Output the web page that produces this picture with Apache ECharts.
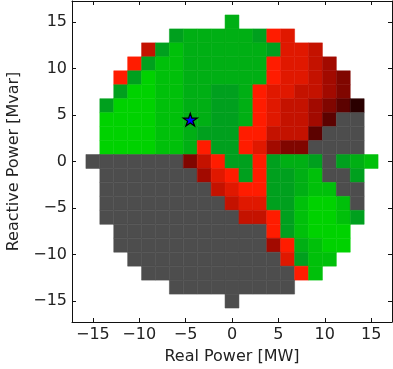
<!DOCTYPE html>
<html>
<head>
<meta charset="utf-8">
<script src="https://cdn.jsdelivr.net/npm/echarts@6/dist/echarts.min.js"></script>
<style>
html, body { margin: 0; padding: 0; background: #fff; }
#chart { width: 393px; height: 369px; }
</style>
</head>
<body>
<div id="chart"></div>
<script>
// cell centres, 1.5 MW / 1.5 Mvar apart
const realPower = [-15, -13.5, -12, -10.5, -9, -7.5, -6, -4.5, -3, -1.5, 0, 1.5, 3, 4.5, 6, 7.5, 9, 10.5, 12, 13.5, 15];
const reactivePower = [15, 13.5, 12, 10.5, 9, 7.5, 6, 4.5, 3, 1.5, 0, -1.5, -3, -4.5, -6, -7.5, -9, -10.5, -12, -13.5, -15];

// one string per row (top -> bottom), one char per cell (left -> right)
// a..e = green (dark -> bright), 1..7 = red (bright -> dark), # = infeasible, . = outside
const cellRows = [
    '..........c..........',
    '......bcccccb12......',
    '....3bdccccccb223....',
    '...1bddcccccc12234...',
    '..1beddcccccc122345..',
    '..beeddccbbc1223345..',
    '.beeeddccbbc12334567.',
    '.eeeeddccbbc123346##.',
    '.eeeeddcbbb113336###.',
    '.eeeeddc1bb12455####.',
    '#######531bb1bccb#bcd',
    '.#######421b1bbcd##b.',
    '.########3211bbcdd##.',
    '.#########322bbdeed#.',
    '.##########331bdeedb.',
    '..###########1bdeee..',
    '..###########41cdee..',
    '...###########2bdd...',
    '....###########1d....',
    '......#########......',
    '..........#..........'
];

const operatingPoint = [-4.5, 4.5];
const tickValues = [-15, -10, -5, 0, 5, 10, 15];

const palette = {
    a: '#00912a', b: '#00a01e', c: '#00af14', d: '#00c00a', e: '#00d200',
    '1': '#ff1c00', '2': '#e01800', '3': '#c41200', '4': '#a20a00',
    '5': '#800600', '6': '#5c0200', '7': '#2a0000',
    '#': '#4d4d4d'
};

const cells = [];
cellRows.forEach(function (row, r) {
    for (let c = 0; c < row.length; c++) {
        const code = row[c];
        if (code === '.') continue;
        cells.push({ value: [realPower[c], reactivePower[r]], itemStyle: { color: palette[code] } });
    }
});

const font = 'DejaVu Sans';
const half = 0.75;

function frameAxis(pos, showLabels, name) {
    return {
        type: 'value',
        position: pos,
        min: -17.25,
        max: 17.25,
        name: name,
        nameLocation: 'middle',
        nameGap: pos === 'bottom' ? 27 : 41,
        nameTextStyle: { fontFamily: font, fontSize: 16, color: '#222' },
        axisLine: { show: true, onZero: false, lineStyle: { color: '#111', width: 1 } },
        axisTick: { show: true, inside: true, length: 4, customValues: tickValues, lineStyle: { color: '#111' } },
        axisLabel: {
            show: showLabels, customValues: tickValues, margin: 5,
            fontFamily: font, fontSize: 16, color: '#222',
            formatter: function (v) { return v < 0 ? '\u2212' + Math.abs(v) : String(v); }
        },
        splitLine: { show: false }
    };
}

const chart = echarts.init(document.getElementById('chart'));
chart.setOption({
    animation: false,
    backgroundColor: '#fff',
    grid: { left: 72, right: 1, top: 1, bottom: 47, outerBoundsMode: 'none' },
    xAxis: [frameAxis('bottom', true, 'Real Power [MW]'), frameAxis('top', false, '')],
    yAxis: [frameAxis('left', true, 'Reactive Power [Mvar]'), frameAxis('right', false, '')],
    series: [{
        type: 'custom',
        data: cells,
        encode: { x: 0, y: 1 },
        renderItem: function (params, api) {
            const x = api.value(0), y = api.value(1);
            const p0 = api.coord([x - half, y + half]);
            const p1 = api.coord([x + half, y - half]);
            const color = api.visual('color');
            return {
                type: 'rect',
                shape: { x: p0[0], y: p0[1], width: p1[0] - p0[0], height: p1[1] - p0[1] },
                style: { fill: color, stroke: color, lineWidth: 0.5 }
            };
        }
    }, {
        type: 'scatter',
        data: [operatingPoint],
        symbol: 'path://M100 0L122.45 69.1L195.11 69.1L136.33 111.8L158.78 180.9L100 138.2L41.22 180.9L63.67 111.8L4.89 69.1L77.55 69.1Z',
        symbolSize: [14, 13.3],
        symbolKeepAspect: true,
        itemStyle: { color: '#0000ff', borderColor: '#000', borderWidth: 1.2, opacity: 1 },
        z: 10
    }]
});
</script>
</body>
</html>
